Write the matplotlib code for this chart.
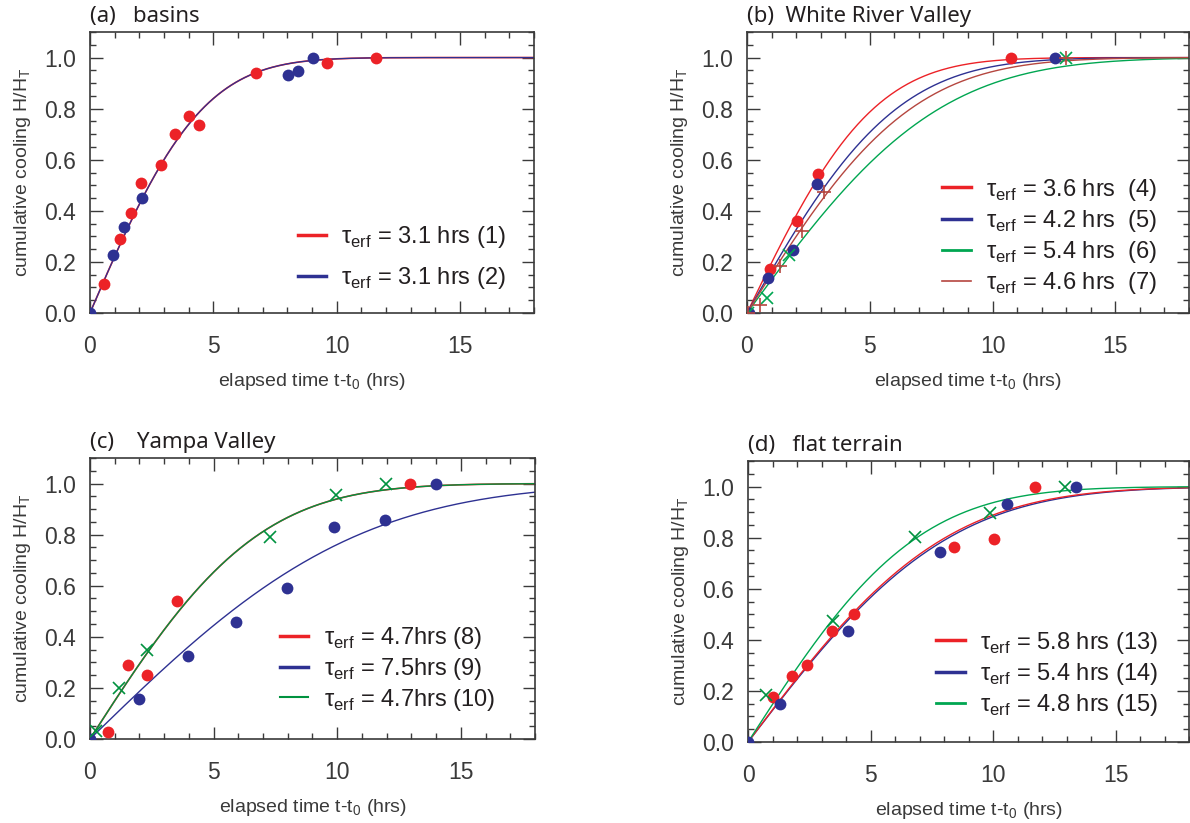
import math
import numpy as np
import matplotlib
matplotlib.use('Agg')
import matplotlib.pyplot as plt
from matplotlib.lines import Line2D
from matplotlib.ticker import MultipleLocator, FormatStrFormatter

plt.rcParams['font.family'] = ['Liberation Sans', 'DejaVu Sans']
plt.rcParams['mathtext.fontset'] = 'custom'
plt.rcParams['mathtext.rm'] = 'Liberation Sans'

RED = '#ec2227'
BLUE = '#2e3192'
GREEN = '#00a651'
DKGREEN = '#00923f'
BROWN = '#b5463f'
GREY = '#3a3a3a'

# erf fit: H/HT = erf(t / (ERF_SCALE * tau))
ERF_SCALE = 1.6
erf = np.vectorize(math.erf)
t_fit = np.linspace(0, 18, 400)

# ---- (a) basins
a_red_t = [0.57, 1.2, 1.68, 2.07, 2.87, 3.44, 4.0, 4.43, 6.72, 9.62, 11.59]
a_red_y = [0.113, 0.288, 0.39, 0.51, 0.58, 0.70, 0.77, 0.736, 0.94, 0.98, 1.0]
a_blue_t = [0.0, 0.92, 1.37, 2.09, 8.04, 8.44, 9.03]
a_blue_y = [0.0, 0.227, 0.338, 0.45, 0.931, 0.948, 1.0]
a_tau = [3.15, 3.15]
a_labels = ['τ$_\\mathregular{erf}$ = 3.1 hrs (1)', 'τ$_\\mathregular{erf}$ = 3.1 hrs (2)']

# ---- (b) White River Valley
b_red_t = [0.95, 2.03, 2.9, 10.74]
b_red_y = [0.173, 0.362, 0.545, 1.0]
b_blue_t = [0.1, 0.84, 1.86, 2.84, 12.53]
b_blue_y = [0.0, 0.137, 0.248, 0.505, 1.0]
b_green_t = [0.05, 0.8, 1.73, 12.97]
b_green_y = [0.0, 0.057, 0.228, 1.0]
b_brown_t = [0.05, 0.53, 1.35, 2.23, 3.14, 12.97]
b_brown_y = [0.0, 0.031, 0.183, 0.32, 0.473, 1.0]
b_tau = [3.55, 4.2, 5.4, 4.6]
b_labels = ['τ$_\\mathregular{erf}$ = 3.6 hrs  (4)', 'τ$_\\mathregular{erf}$ = 4.2 hrs  (5)',
            'τ$_\\mathregular{erf}$ = 5.4 hrs  (6)', 'τ$_\\mathregular{erf}$ = 4.6 hrs  (7)']

# ---- (c) Yampa Valley
c_red_t = [0.73, 1.55, 2.3, 3.54, 12.93]
c_red_y = [0.026, 0.29, 0.25, 0.542, 1.0]
c_blue_t = [0.0, 1.99, 3.97, 5.9, 7.97, 9.85, 11.95, 13.99]
c_blue_y = [0.0, 0.158, 0.323, 0.456, 0.59, 0.83, 0.859, 1.0]
c_green_t = [0.23, 1.18, 2.32, 7.28, 9.96, 11.99]
c_green_y = [0.03, 0.198, 0.349, 0.789, 0.957, 1.0]
c_tau = [4.7, 7.5, 4.7]
c_labels = ['τ$_\\mathregular{erf}$ = 4.7hrs (8)', 'τ$_\\mathregular{erf}$ = 7.5hrs (9)',
            'τ$_\\mathregular{erf}$ = 4.7hrs (10)']

# ---- (d) flat terrain
d_red_t = [1.0, 1.79, 2.42, 3.41, 4.33, 8.42, 10.05, 11.73]
d_red_y = [0.176, 0.258, 0.3, 0.434, 0.501, 0.762, 0.796, 1.0]
d_blue_t = [0.0, 1.29, 4.09, 7.83, 10.58, 13.4]
d_blue_y = [0.0, 0.15, 0.436, 0.742, 0.931, 1.0]
d_green_t = [0.74, 3.48, 6.82, 9.88, 12.92]
d_green_y = [0.185, 0.475, 0.803, 0.895, 1.0]
d_tau = [5.55, 5.65, 4.75]
d_labels = ['τ$_\\mathregular{erf}$ = 5.8 hrs (13)', 'τ$_\\mathregular{erf}$ = 5.4 hrs (14)',
            'τ$_\\mathregular{erf}$ = 4.8 hrs (15)']


def style_axes(ax, title):
    ax.set_xlim(0, 18)
    ax.set_ylim(0, 1.1)
    ax.xaxis.set_major_locator(MultipleLocator(5))
    ax.xaxis.set_minor_locator(MultipleLocator(1))
    ax.yaxis.set_major_locator(MultipleLocator(0.2))
    ax.yaxis.set_minor_locator(MultipleLocator(0.05))
    ax.yaxis.set_major_formatter(FormatStrFormatter('%.1f'))
    ax.tick_params(which='both', direction='in', top=True, right=True,
                   color=GREY, labelcolor=GREY, labelsize=16.5, pad=10)
    ax.tick_params(which='major', length=9, width=1)
    ax.tick_params(which='minor', length=4.5, width=1)
    ax.tick_params(axis='x', pad=16)
    for s in ax.spines.values():
        s.set_color(GREY)
        s.set_linewidth(1.2)
    ax.set_xlabel('elapsed time t-t$_\\mathregular{0}$ (hrs)', fontsize=14, color=GREY, labelpad=9)
    ax.set_ylabel('cumulative cooling H/H$_\\mathregular{T}$', fontsize=14, color=GREY, labelpad=8)
    ax.set_title(title, loc='left', fontsize=16, color='#231f20', pad=7,
                 family=['Noto Sans', 'DejaVu Sans'])


def dots(ax, t, y, c):
    ax.plot(t, y, 'o', color=c, ms=8.5, mec='none', zorder=4)


def add_legend(ax, colors, labels, x, y, spacing, lws):
    handles = [Line2D([], [], color=c, lw=lw) for c, lw in zip(colors, lws)]
    ax.legend(handles, labels, loc='upper left', bbox_to_anchor=(x, y), frameon=False,
              fontsize=17, handlelength=1.2, handletextpad=0.65, labelspacing=spacing,
              borderpad=0, borderaxespad=0, labelcolor='#231f20')


fig = plt.figure(figsize=(11.9, 8.23), dpi=100)
ax_a = fig.add_axes([0.0756, 0.6197, 0.3731, 0.3414])
ax_b = fig.add_axes([0.6277, 0.6197, 0.3715, 0.3414])
ax_c = fig.add_axes([0.0756, 0.1021, 0.3740, 0.3414])
ax_d = fig.add_axes([0.6286, 0.0984, 0.3706, 0.3414])

# (a)
style_axes(ax_a, '(a)   basins')
ax_a.plot(t_fit, erf(t_fit / (ERF_SCALE * a_tau[0])), color=RED, lw=1.2)
ax_a.plot(t_fit, erf(t_fit / (ERF_SCALE * a_tau[1])), color=BLUE, lw=0.9)
dots(ax_a, a_red_t, a_red_y, RED)
dots(ax_a, a_blue_t, a_blue_y, BLUE)
add_legend(ax_a, [RED, BLUE], a_labels, 0.468, 0.315, 0.62, [2.5, 2.5])

# (b)
style_axes(ax_b, '(b)  White River Valley')
for tau, c in zip(b_tau, [RED, BLUE, GREEN, BROWN]):
    ax_b.plot(t_fit, erf(t_fit / (ERF_SCALE * tau)), color=c, lw=1.0)
dots(ax_b, b_red_t, b_red_y, RED)
dots(ax_b, b_blue_t, b_blue_y, BLUE)
ax_b.plot(b_green_t, b_green_y, 'x', color=GREEN, ms=9, mew=1.2, zorder=4)
ax_b.plot(b_brown_t, b_brown_y, '+', color=BROWN, ms=10, mew=1.2, zorder=4)
add_legend(ax_b, [RED, BLUE, GREEN, BROWN], b_labels, 0.442, 0.485, 0.22, [2.5, 2.5, 2, 1.2])

# (c)
style_axes(ax_c, '(c)    Yampa Valley')
ax_c.plot(t_fit, erf(t_fit / (ERF_SCALE * c_tau[0])), color=RED, lw=1.2)
ax_c.plot(t_fit, erf(t_fit / (ERF_SCALE * c_tau[1])), color=BLUE, lw=1.0)
ax_c.plot(t_fit, erf(t_fit / (ERF_SCALE * c_tau[2])), color=DKGREEN, lw=1.0)
dots(ax_c, c_red_t, c_red_y, RED)
dots(ax_c, c_blue_t, c_blue_y, BLUE)
ax_c.plot(c_green_t, c_green_y, 'x', color=DKGREEN, ms=9, mew=1.2, zorder=4)
add_legend(ax_c, [RED, BLUE, DKGREEN], c_labels, 0.427, 0.405, 0.2, [2.5, 2.5, 1.5])

# (d)
style_axes(ax_d, '(d)   flat terrain')
ax_d.plot(t_fit, erf(t_fit / (ERF_SCALE * d_tau[1])), color=BLUE, lw=1.0)
ax_d.plot(t_fit, erf(t_fit / (ERF_SCALE * d_tau[0])), color=RED, lw=1.0)
ax_d.plot(t_fit, erf(t_fit / (ERF_SCALE * d_tau[2])), color=GREEN, lw=1.0)
dots(ax_d, d_red_t, d_red_y, RED)
dots(ax_d, d_blue_t, d_blue_y, BLUE)
ax_d.plot(d_green_t, d_green_y, 'x', color=DKGREEN, ms=9, mew=1.2, zorder=4)
add_legend(ax_d, [RED, BLUE, GREEN], d_labels, 0.427, 0.40, 0.22, [2.5, 2.5, 2])

fig.savefig('out.png', dpi=100)
